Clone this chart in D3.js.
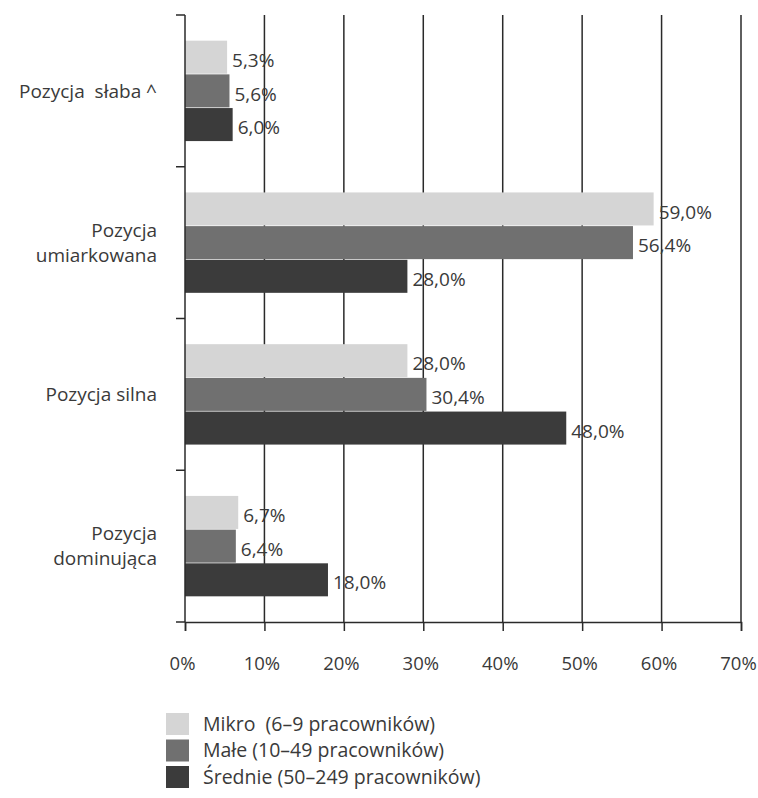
<!DOCTYPE html>
<html><head><meta charset="utf-8">
<script src="https://cdn.jsdelivr.net/npm/d3@7"></script>
<style>body{margin:0;background:#fff}svg{display:block}text{font-family:"Open Sans",sans-serif;white-space:pre}</style>
</head><body><svg id="c" width="758" height="798"></svg>
<script>
const categories = [["Pozycja  słaba ^"], ["Pozycja", "umiarkowana"], ["Pozycja silna"], ["Pozycja", "dominująca"]];
const seriesNames = ["Mikro  (6–9 pracowników)", "Małe (10–49 pracowników)", "Średnie (50–249 pracowników)"];
const mikro = [5.3, 59.0, 28.0, 6.7];
const male = [5.6, 56.4, 30.4, 6.4];
const srednie = [6.0, 28.0, 48.0, 18.0];
const valueLabels = [["5,3%", "59,0%", "28,0%", "6,7%"], ["5,6%", "56,4%", "30,4%", "6,4%"], ["6,0%", "28,0%", "48,0%", "18,0%"]];
const xTicks = [0, 10, 20, 30, 40, 50, 60, 70];
const colors = ["#d5d5d5", "#707070", "#3b3b3b"];

(function () {
const series = [mikro, male, srednie];
const svg = d3.select("#c");
const pLeft = 185, pRight = 741, pTop = 15, pBottom = 622;
const x = d3.scaleLinear().domain([0, 70]).range([pLeft, pRight]);
const catIdx = categories.map((d, i) => i);
const y = d3.scaleBand().domain(catIdx).range([pTop, pBottom]).paddingInner(0).paddingOuter(0);
const ySub = d3.scaleBand().domain([0, 1, 2]).range([25, y.bandwidth() - 25]).padding(0.02);
const ink = "#2a2a2a";
const txt = "#3a3a3a";

// gridlines
svg.append("g").selectAll("line").data(xTicks.slice(1)).join("line")
  .attr("x1", d => x(d)).attr("x2", d => x(d)).attr("y1", pTop).attr("y2", pBottom)
  .attr("stroke", ink).attr("stroke-width", 1.5);

// bars
series.forEach((vals, s) => {
  svg.append("g").selectAll("rect").data(vals).join("rect")
    .attr("x", x(0)).attr("y", (d, i) => y(i) + ySub(s))
    .attr("width", d => x(d) - x(0)).attr("height", ySub.bandwidth())
    .attr("fill", colors[s]);
});
series.forEach((vals, s) => {
  svg.append("g").selectAll("text").data(vals).join("text")
    .attr("x", d => x(d) + 5).attr("y", (d, i) => y(i) + ySub(s) + ySub.bandwidth() / 2 + 3)
    .attr("dy", "0.35em").attr("font-size", 19).attr("fill", txt)
    .text((d, i) => valueLabels[s][i]);
});

// x axis
const xAxis = svg.append("g").attr("transform", `translate(0,${pBottom})`)
  .call(d3.axisBottom(x).tickValues(xTicks).tickSize(9).tickPadding(26).tickFormat(d => d + "%"));
xAxis.select(".domain").attr("stroke", ink).attr("stroke-width", 1.5);
xAxis.selectAll(".tick line").attr("stroke", ink).attr("stroke-width", 1.5);
xAxis.selectAll("text").attr("font-size", 18.5).attr("fill", txt).attr("font-family", "Open Sans").attr("dx", -3);

// y axis line + boundary ticks
svg.append("line").attr("x1", pLeft).attr("x2", pLeft).attr("y1", pTop).attr("y2", pBottom)
  .attr("stroke", ink).attr("stroke-width", 1.5);
const bounds = catIdx.map(i => y(i)).concat([y.range()[1]]);
svg.append("g").selectAll("line").data(bounds).join("line")
  .attr("x1", pLeft - 9).attr("x2", pLeft).attr("y1", d => d).attr("y2", d => d)
  .attr("stroke", ink).attr("stroke-width", 1.5);

// category labels
categories.forEach((lines, i) => {
  const cy = y(i) + y.bandwidth() / 2;
  const lh = 25;
  const t = svg.append("text").attr("text-anchor", "end").attr("font-size", 19).attr("fill", txt);
  lines.forEach((l, k) => {
    t.append("tspan").attr("x", 157)
      .attr("y", cy + (k - (lines.length - 1) / 2) * lh).attr("dy", "0.35em").text(l);
  });
});

// legend
const lg = svg.append("g");
seriesNames.forEach((n, s) => {
  const ly = 713 + s * 26.5;
  lg.append("rect").attr("x", 166).attr("y", ly).attr("width", 23).attr("height", 22).attr("fill", colors[s]);
  lg.append("text").attr("x", 203).attr("y", ly + 11).attr("dy", "0.35em").attr("font-size", 19.5)
    .attr("fill", txt).text(n);
});
})();
</script></body></html>
